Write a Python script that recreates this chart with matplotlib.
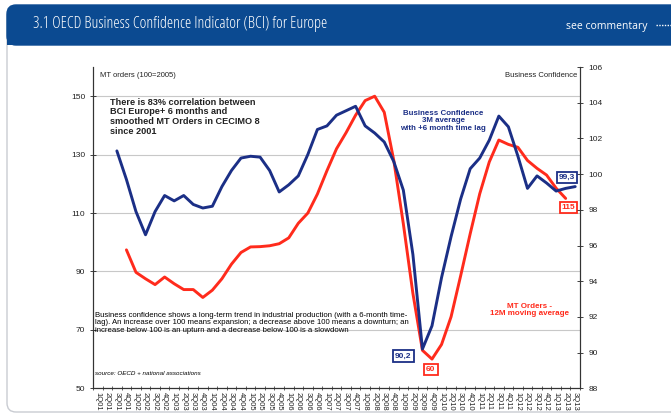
import matplotlib
matplotlib.use("Agg")
import matplotlib.pyplot as plt
from matplotlib.patches import FancyBboxPatch

plt.rcParams['font.family'] = ['Liberation Sans', 'DejaVu Sans']

# quarter labels 1Q01 .. 3Q13
quarters = [f"{q}Q{y:02d}" for y in range(1, 14) for q in range(1, 5)][:51]

# Business confidence (right axis), 3M average with +6 month lag, starts 3Q01
bci_start = 2
bci = [101.3, 99.7, 97.9, 96.6, 97.9, 98.8, 98.5, 98.8, 98.3, 98.1,
       98.2, 99.3, 100.2, 100.9, 101.0, 100.95, 100.2, 99.0, 99.4, 99.9,
       101.1, 102.5, 102.7, 103.3, 103.55, 103.8, 102.7, 102.3, 101.8, 100.7,
       99.1, 95.5, 90.2, 91.5, 94.2, 96.5, 98.6, 100.3, 100.9, 101.9,
       103.25, 102.65, 101.0, 99.2, 99.9, 99.5, 99.05, 99.2, 99.3]

# MT orders (left axis), 12M moving average, starts 4Q01
mto_start = 3
mto = [97.4, 89.7, 87.5, 85.5, 88.1, 85.8, 83.8, 83.8, 81.1, 83.6,
       87.5, 92.5, 96.5, 98.4, 98.5, 98.8, 99.5, 101.5, 106.5, 110.0,
       116.5, 124.5, 132.0, 137.5, 143.5, 148.5, 150.0, 144.5, 128.0, 106.3,
       82.5, 63.0, 60.0, 65.0, 74.5, 88.5, 102.9, 116.6, 127.5, 135.0,
       133.5, 132.5, 128.0, 125.3, 123.0, 118.5, 115.0]

blue = "#1b2f86"
red = "#ff2b1c"
dark = "#222222"

fig = plt.figure(figsize=(6.71, 4.19), dpi=100)

# background in pixel coordinates: header banner and panel border
bg = fig.add_axes([0, 0, 1, 1], zorder=0)
bg.set_xlim(0, 671)
bg.set_ylim(419, 0)
bg.axis("off")
bg.add_patch(FancyBboxPatch((7, 8), 700, 404, boxstyle="round,pad=0,rounding_size=9",
                            fc="white", ec="#c9ccd2", lw=1.0))
bg.add_patch(FancyBboxPatch((7, 5), 700, 40, boxstyle="round,pad=0,rounding_size=9",
                            fc="#0b4a91", ec="#0b4a91", lw=1.0))
bg.add_patch(plt.Rectangle((7, 30), 700, 15, fc="#0b4a91", ec="none"))
bg.text(33, 24, "3.1 OECD Business Confidence Indicator (BCI) for Europe", color="white",
        fontsize=11.6, family=["Open Sans"], fontstretch="condensed", va="center", ha="left")
bg.text(566, 27, "see commentary", color="white", fontsize=7.5, family=["Open Sans"],
        va="center", ha="left")
bg.plot([656, 671], [25, 25], color="white", lw=1, ls=(0, (1, 1)))

# chart axes
ax = fig.add_axes([93 / 671, 1 - 388.3 / 419, 487 / 671, 321.3 / 419], zorder=1)
ax.patch.set_alpha(0)
ax2 = ax.twinx()

xb = list(range(bci_start, bci_start + len(bci)))
xm = list(range(mto_start, mto_start + len(mto)))
ax.plot(xm, mto, color=red, lw=2.1, solid_joinstyle="round", solid_capstyle="round", zorder=3)
ax2.plot(xb, bci, color=blue, lw=2.1, solid_joinstyle="round", solid_capstyle="round", zorder=3)

ax.set_xlim(-0.5, len(quarters) - 0.5)
ax.set_ylim(50, 160)
ax2.set_ylim(88, 106)
ax.set_yticks(range(50, 151, 20))
ax2.set_yticks(range(88, 107, 2))
ax.set_xticks(range(len(quarters)))
ax.set_xticklabels(quarters, rotation=270, fontsize=5.5, color=dark)
ax.set_xticks([i - 0.5 for i in range(len(quarters) + 1)], minor=True)
ax.tick_params(axis="x", which="major", length=0, pad=3)
ax.tick_params(axis="x", which="minor", length=3, direction="inout", width=0.6, color="#444")
ax.tick_params(axis="y", labelsize=6, colors=dark, direction="inout", length=4, width=0.6)
ax2.tick_params(axis="y", labelsize=6, colors=dark, direction="inout", length=5, width=0.6)

ax.grid(axis="y", color="#c8c8c8", lw=0.8)
ax.set_axisbelow(True)
for a in (ax, ax2):
    a.spines["top"].set_visible(False)
    for s in ("left", "right", "bottom"):
        a.spines[s].set_color("#333333")
        a.spines[s].set_linewidth(0.8)

# axis captions
ax.text(0.014, 0.975, "MT orders (100=2005)", transform=ax.transAxes, fontsize=5.5,
        color=dark, va="center", ha="left")
ax.text(0.994, 0.975, "Business Confidence", transform=ax.transAxes, fontsize=5.5,
        color=dark, va="center", ha="right")

# annotations
ax.text(0.035, 0.905, "There is 83% correlation between\nBCI Europe+ 6 months and\n"
        "smoothed MT Orders in CECIMO 8\nsince 2001", transform=ax.transAxes,
        fontsize=6.6, fontweight="bold", color=dark, va="top", ha="left", linespacing=1.1)
ax.text(0.719, 0.866, "Business Confidence\n3M average\nwith +6 month time lag",
        transform=ax.transAxes, fontsize=5.7, fontweight="bold", color=blue,
        va="top", ha="center", linespacing=1.08)
ax.text(0.897, 0.266, "MT Orders -\n12M moving average", transform=ax.transAxes,
        fontsize=5.8, fontweight="bold", color=red, va="top", ha="center", linespacing=1.08)
ax.text(0.004, 0.238, "Business confidence shows a long-term trend in industrial production "
        "(with a 6-month time-\nlag). An increase over 100 means expansion; a decrease above "
        "100 means a downturn; an\nincrease below 100 is an upturn and a decrease below 100 "
        "is a slowdown", transform=ax.transAxes, fontsize=5.6, color="black",
        va="top", ha="left", linespacing=1.1)
ax.text(0.004, 0.047, "source: OECD + national associations", transform=ax.transAxes,
        fontsize=4.5, style="italic", color="black", va="center", ha="left")

# value boxes
def value_box(axis, x, y, txt, color, dx, dy):
    axis.annotate(txt, (x, y), xytext=(dx, dy), textcoords="offset points",
                  fontsize=6, fontweight="bold", color=color, ha="center", va="center",
                  bbox=dict(boxstyle="square,pad=0.25", fc="white", ec=color, lw=1.3),
                  zorder=5)

value_box(ax2, xb[-1], bci[-1], "99,3", blue, -5.9, 6.8)
i_b = bci.index(min(bci))
value_box(ax2, xb[i_b], bci[i_b], "90,2", blue, -13.8, -5.0)
value_box(ax, xm[-1], mto[-1], "115", red, 2.1, -6.6)
i_m = mto.index(min(mto))
value_box(ax, xm[i_m], mto[i_m], "60", red, -0.8, -7.6)

fig.savefig("out.png", dpi=100)
